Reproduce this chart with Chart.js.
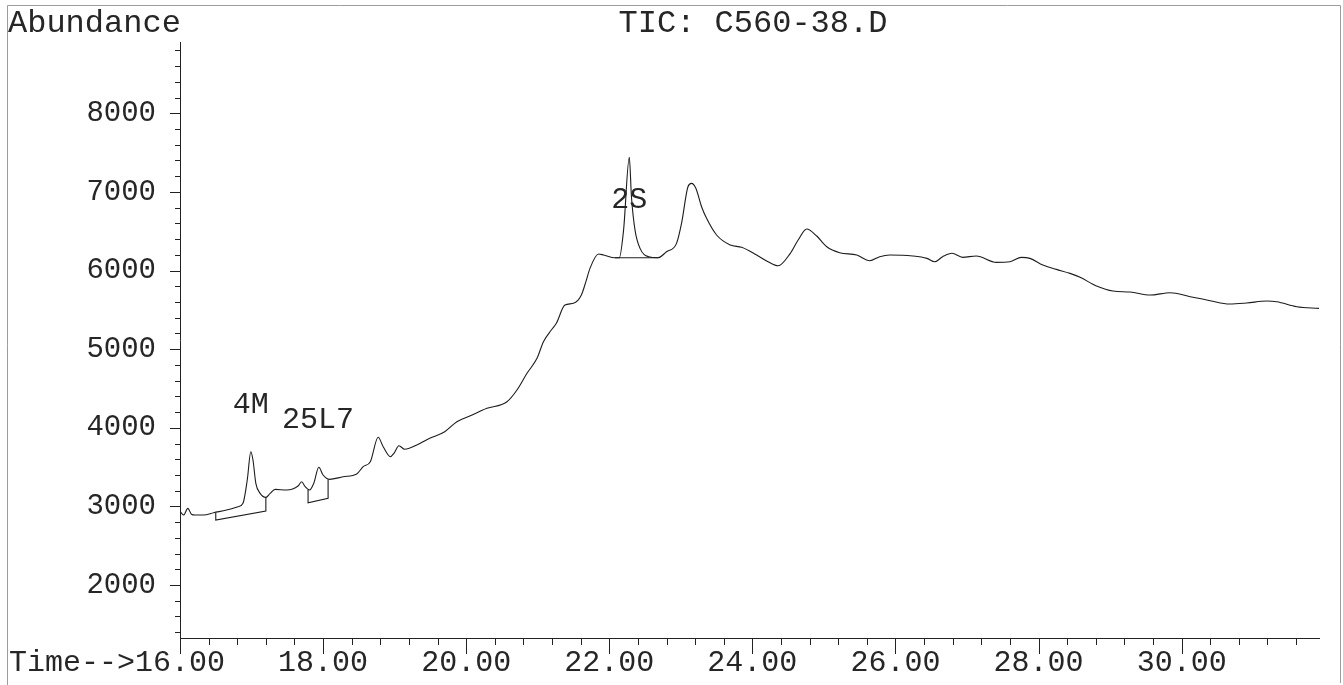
<!DOCTYPE html>
<html>
<head>
<meta charset="utf-8">
<script src="https://cdn.jsdelivr.net/npm/chart.js@4.4.0/dist/chart.umd.min.js"></script>
<style>
html, body { margin: 0; padding: 0; background: #fff; }
#wrap { width: 1343px; height: 685px; }
</style>
</head>
<body>
<div id="wrap"><canvas id="tic" width="1343" height="685"></canvas></div>
<script>
// ===============================
// Data
// ===============================

const retentionTimes = [
    16.00, 16.05, 16.11, 16.16, 16.21, 16.33, 16.47, 16.65, 16.81, 16.88,
    16.94, 16.99, 17.02, 17.06, 17.12, 17.20, 17.26, 17.33, 17.49, 17.65,
    17.70, 17.75, 17.81, 17.87, 17.94, 18.00, 18.09, 18.28, 18.47, 18.56,
    18.66, 18.77, 18.84, 18.94, 18.99, 19.06, 19.14, 19.31, 19.49, 19.70,
    19.87, 20.05, 20.29, 20.57, 20.71, 20.85, 20.99, 21.08, 21.19, 21.26,
    21.38, 21.50, 21.61, 21.68, 21.73, 21.85, 21.92, 22.08, 22.14, 22.20,
    22.28, 22.31, 22.36, 22.43, 22.55, 22.68, 22.80, 22.94, 23.01, 23.10,
    23.15, 23.21, 23.29, 23.36, 23.50, 23.69, 23.85, 24.06, 24.22, 24.36,
    24.53, 24.64, 24.76, 24.90, 25.04, 25.22, 25.46, 25.64, 25.78, 25.92,
    26.24, 26.44, 26.55, 26.66, 26.79, 26.94, 27.13, 27.41, 27.60, 27.76,
    27.88, 28.06, 28.25, 28.44, 28.58, 28.81, 29.04, 29.28, 29.56, 29.84,
    30.12, 30.40, 30.67, 30.91, 31.19, 31.33, 31.61, 31.92
];

const abundance = [
    2940, 2890, 2975, 2900, 2890, 2890, 2920, 2954, 2996, 3039,
    3336, 3695, 3590, 3294, 3166, 3115, 3166, 3217, 3208, 3259,
    3314, 3250, 3208, 3294, 3497, 3399, 3344, 3377, 3412, 3505,
    3568, 3879, 3759, 3632, 3675, 3772, 3726, 3781, 3866, 3950,
    4077, 4150, 4247, 4331, 4480, 4693, 4883, 5095, 5243, 5329,
    5561, 5583, 5689, 5879, 6028, 6210, 6198, 6163, 6163, 6515,
    7440, 6939, 6515, 6282, 6176, 6163, 6239, 6346, 6600, 7066,
    7109, 7046, 6812, 6664, 6452, 6325, 6295, 6197, 6112, 6061,
    6219, 6388, 6528, 6439, 6303, 6227, 6197, 6125, 6176, 6197,
    6185, 6155, 6112, 6176, 6219, 6168, 6185, 6104, 6112, 6168,
    6155, 6070, 6015, 5964, 5914, 5803, 5739, 5727, 5688, 5718,
    5667, 5616, 5574, 5587, 5612, 5603, 5540, 5519
];

// integration baselines drawn under the labelled peaks
const baseline4MTimes = [16.50, 16.50, 17.20, 17.20];
const baseline4MLevels = [2920, 2827, 2941, 3115];
const baseline25L7Times = [17.79, 17.79, 18.07, 18.07];
const baseline25L7Levels = [3208, 3047, 3103, 3344];
const baseline2STimes = [22.08, 22.68];
const baseline2SLevels = [6163, 6163];

// peak names and where their text sits (time, abundance)
const peakNames = ["4M", "25L7", "2S"];
const peakLabelTimes = [16.99, 17.93, 22.28];
const peakLabelLevels = [4188, 3997, 6795];

// axes
const xTicks = [16, 18, 20, 22, 24, 26, 28, 30];
const yTicks = [2000, 3000, 4000, 5000, 6000, 7000, 8000];
const xMinorStep = 0.4;
const yMinorStep = 200;
const xMin = 16.0, xMax = 31.92;
const yMin = 1326, yMax = 8907;

const titleText = "TIC: C560-38.D";
const yAxisText = "Abundance";
const xAxisText = "Time-->";

// ===============================
// Helpers
// ===============================

function pts(xs, ys) {
    return xs.map((x, i) => ({ x: x, y: ys[i] }));
}

const FONT = "'Liberation Mono', 'DejaVu Sans Mono', monospace";
const INK = "#262626";

// ===============================
// Frame, minor ticks and texts
// ===============================

const printout = {
    id: "printout",
    beforeDraw(chart) {
        const c = chart.ctx;
        c.save();
        c.fillStyle = "#fff";
        c.fillRect(0, 0, chart.width, chart.height);
        c.strokeStyle = "#9c9c9c";
        c.lineWidth = 1;
        c.beginPath();
        c.moveTo(7.5, 685);
        c.lineTo(7.5, 5.5);
        c.lineTo(1340.5, 5.5);
        c.lineTo(1340.5, 683);
        c.stroke();
        c.restore();
    },
    afterDraw(chart) {
        const c = chart.ctx;
        const xs = chart.scales.x;
        const ys = chart.scales.y;
        c.save();
        c.strokeStyle = "#222";
        c.lineWidth = 1;
        c.beginPath();

        // time ticks
        for (let i = 0; ; i++) {
            const t = xMin + i * xMinorStep;
            if (t > xMax + 1e-6) break;
            const major = xTicks.some(v => Math.abs(v - t) < 1e-6);
            const px = Math.round(xs.getPixelForValue(t)) + 0.5;
            c.moveTo(px, xs.top);
            c.lineTo(px, xs.top + (major ? 16 : 7));
        }

        // abundance ticks
        for (let i = 1; ; i++) {
            const v = 1200 + i * yMinorStep;
            if (v > yMax) break;
            const major = yTicks.includes(v);
            const py = Math.round(ys.getPixelForValue(v)) + 0.5;
            c.moveTo(ys.right, py);
            c.lineTo(ys.right - (major ? 10 : 5), py);
        }
        c.stroke();

        // texts
        c.fillStyle = INK;
        c.font = "32px " + FONT;
        c.textBaseline = "alphabetic";
        c.textAlign = "left";
        c.fillText(yAxisText, 8, 32);
        c.textAlign = "center";
        c.fillText(titleText, 753, 32);

        c.font = "30px " + FONT;
        const w16 = c.measureText("16.00").width;
        c.textAlign = "right";
        c.textBaseline = "middle";
        c.fillText(xAxisText, xs.getPixelForValue(xTicks[0]) - w16 / 2, 663);

        c.textAlign = "center";
        c.textBaseline = "alphabetic";
        peakNames.forEach((name, i) => {
            c.fillText(name, xs.getPixelForValue(peakLabelTimes[i]), ys.getPixelForValue(peakLabelLevels[i]));
        });
        c.restore();
    }
};

// ===============================
// Chart
// ===============================

const lineStyle = {
    borderColor: "#1c1c1c",
    borderWidth: 1.1,
    pointRadius: 0,
    fill: false
};

new Chart(document.getElementById("tic"), {
    type: "line",
    data: {
        datasets: [
            Object.assign({ label: "TIC", data: pts(retentionTimes, abundance), cubicInterpolationMode: "monotone" }, lineStyle),
            Object.assign({ label: "4M", data: pts(baseline4MTimes, baseline4MLevels), tension: 0 }, lineStyle),
            Object.assign({ label: "25L7", data: pts(baseline25L7Times, baseline25L7Levels), tension: 0 }, lineStyle),
            Object.assign({ label: "2S", data: pts(baseline2STimes, baseline2SLevels), tension: 0 }, lineStyle)
        ]
    },
    options: {
        responsive: false,
        animation: false,
        devicePixelRatio: 1,
        layout: { padding: { top: 42, right: 24, left: 0, bottom: 0 } },
        plugins: {
            legend: { display: false },
            tooltip: { enabled: false },
            title: { display: false }
        },
        scales: {
            x: {
                type: "linear",
                min: xMin,
                max: xMax,
                afterFit(scale) { scale.height = 47; },
                afterBuildTicks(scale) { scale.ticks = xTicks.map(v => ({ value: v })); },
                grid: { display: false, drawTicks: false },
                border: { display: true, color: "#222", width: 1 },
                ticks: {
                    padding: 7,
                    color: INK,
                    font: { family: FONT, size: 30 },
                    maxRotation: 0,
                    autoSkip: false,
                    callback: v => Number(v).toFixed(2)
                }
            },
            y: {
                type: "linear",
                min: yMin,
                max: yMax,
                afterFit(scale) { scale.width = 180; },
                afterBuildTicks(scale) { scale.ticks = yTicks.map(v => ({ value: v })); },
                grid: { display: false, drawTicks: false },
                border: { display: true, color: "#222", width: 1 },
                ticks: {
                    padding: 24,
                    color: INK,
                    font: { family: FONT, size: 29 },
                    autoSkip: false,
                    callback: v => String(v)
                }
            }
        }
    },
    plugins: [printout]
});
</script>
</body>
</html>
